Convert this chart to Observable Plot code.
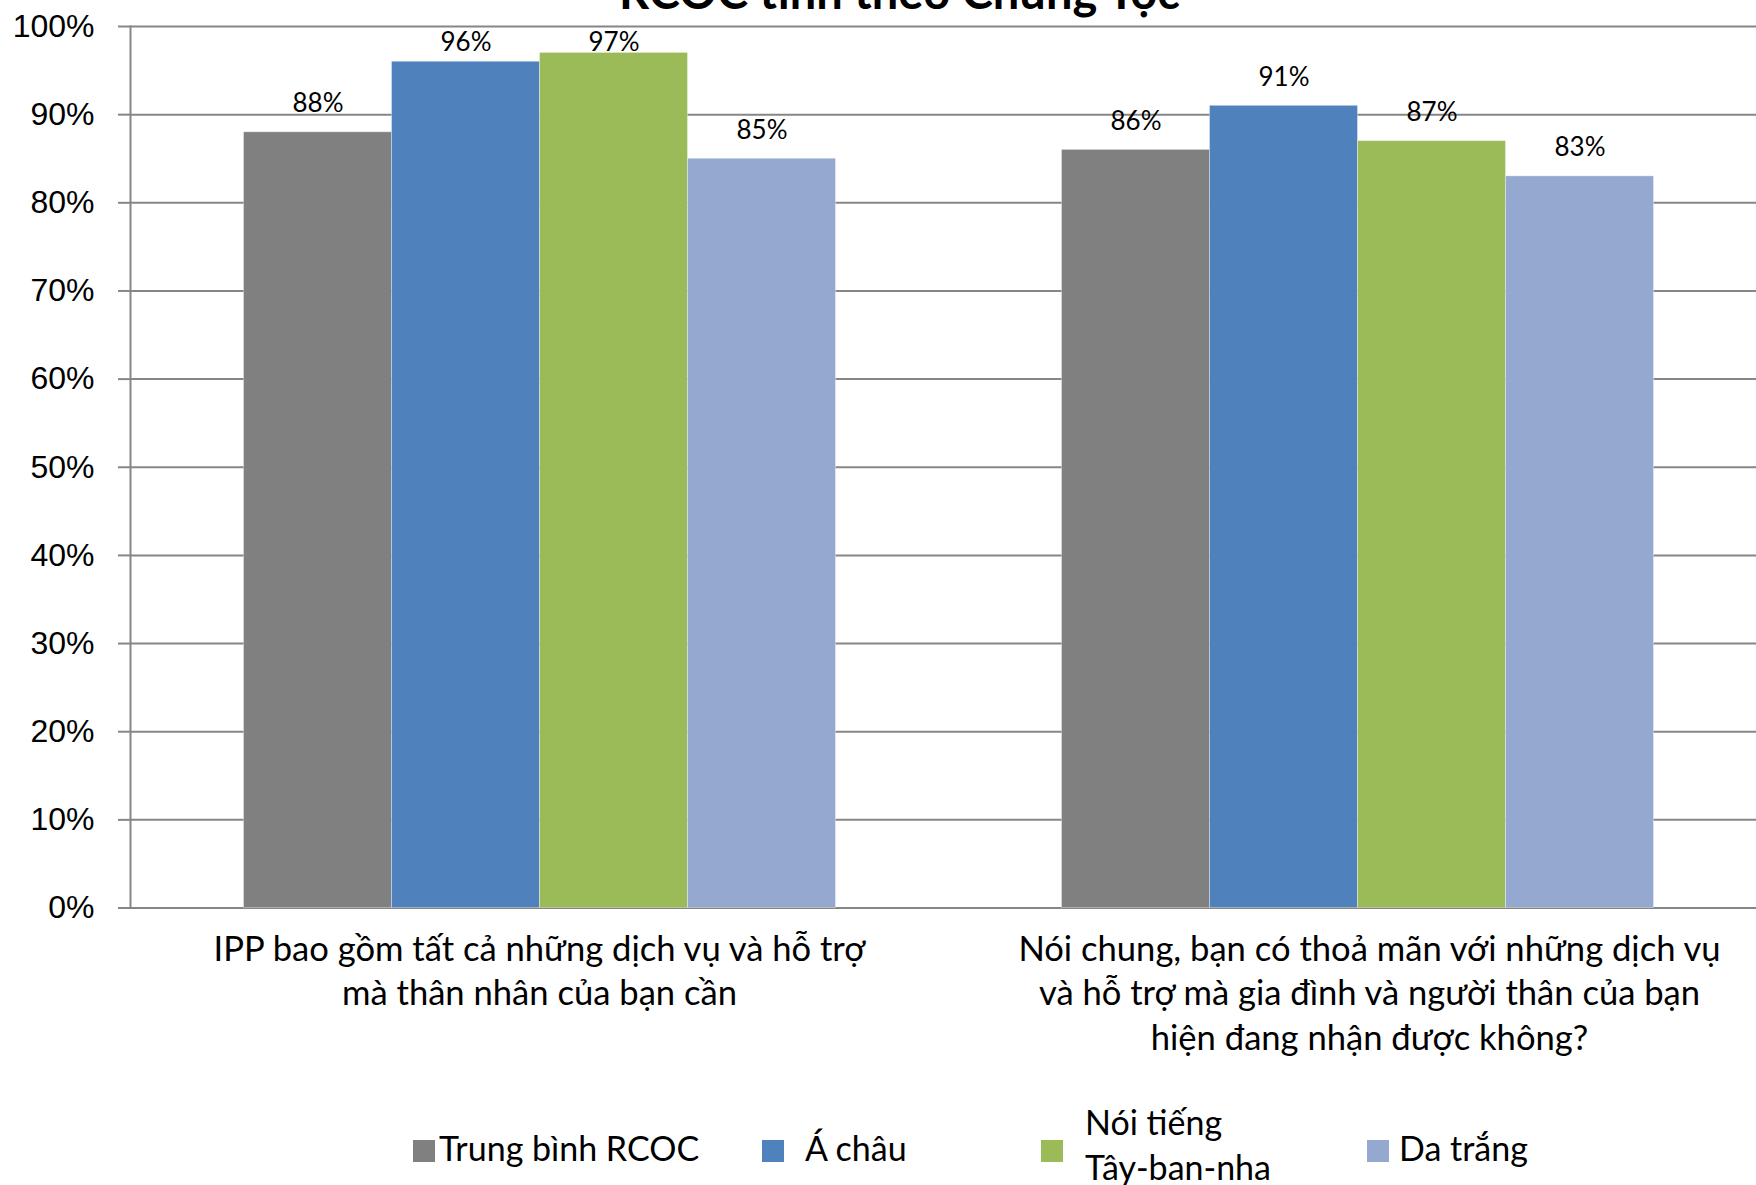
<!DOCTYPE html>
<html><head><meta charset="utf-8">
<script src="https://cdn.jsdelivr.net/npm/d3@7"></script>
<script src="https://cdn.jsdelivr.net/npm/@observablehq/plot@0.6"></script>
<style>
html,body{margin:0;padding:0;background:#fff;overflow:hidden;}
#page{position:relative;width:1756px;height:1185px;overflow:hidden;background:#fff;}
#title{position:absolute;left:0;width:1799px;top:-31.7px;text-align:center;font:bold 47px Lato,'Noto Sans',sans-serif;line-height:47px;color:#000;z-index:2;white-space:nowrap;}
#chart{position:absolute;left:0;top:0;}
.sw{position:absolute;width:22px;height:22px;top:1140px;}
.lt{position:absolute;font:34px Lato,'Noto Sans',sans-serif;line-height:45px;white-space:pre;color:#000;}
g[aria-label="y-axis tick"]{stroke-width:2px;}
</style></head>
<body><div id="page"><div id="title">RCOC tính theo Chủng Tộc</div><div id="chart"></div><div id="legend"></div></div>
<script>
// ---- data ----
const categories = [
  "IPP bao gồm tất cả những dịch vụ và hỗ trợ\nmà thân nhân của bạn cần",
  "Nói chung, bạn có thoả mãn với những dịch vụ\nvà hỗ trợ mà gia đình và người thân của bạn\nhiện đang nhận được không?"
];
const seriesNames = ["Trung bình RCOC", "Á châu", "Nói tiếng Tây-ban-nha", "Da trắng"];
const legendLabels = ["Trung bình RCOC", "Á châu", "Nói tiếng\nTây-ban-nha", "Da trắng"];
const seriesColors = ["#808080", "#4F81BD", "#9BBB59", "#95A9D0"];
const valuesTrungBinh = [0.88, 0.86];
const valuesAChau = [0.96, 0.91];
const valuesTayBanNha = [0.97, 0.87];
const valuesDaTrang = [0.85, 0.83];
const yTicks = [0, 0.1, 0.2, 0.3, 0.4, 0.5, 0.6, 0.7, 0.8, 0.9, 1.0];

const seriesValues = [valuesTrungBinh, valuesAChau, valuesTayBanNha, valuesDaTrang];
const rows = seriesNames.flatMap((s, i) => categories.map((c, j) => ({question: c, group: s, value: seriesValues[i][j]})));
const pct = d3.format(".0%");
// labels are kept inside the plot area (as the spreadsheet does)
const labelCeiling = 0.95;

const labelStyle = {fx: d => d, text: d => d, frameAnchor: "bottom", lineAnchor: "top", dy: 21, fontSize: 34.6, lineHeight: 1.29};

const plot = Plot.plot({
  width: 1756, height: 1100,
  marginLeft: 129.5, marginRight: -9.5, marginTop: 26, marginBottom: 192.5,
  style: {fontFamily: "Lato, 'Noto Sans', sans-serif", background: "transparent", overflow: "visible", color: "#000"},
  fx: {domain: categories, padding: 0, axis: null},
  x: {domain: seriesNames, paddingInner: 0, paddingOuter: 0.75, axis: null},
  y: {domain: [0, 1], axis: null},
  color: {domain: seriesNames, range: seriesColors},
  marks: [
    Plot.gridY({ticks: yTicks, stroke: "#868686", strokeOpacity: 1, strokeWidth: 2}),
    Plot.axisY({ticks: yTicks, tickSize: 12, tickFormat: () => "", color: "#868686", label: null}),
    Plot.axisY({ticks: yTicks, tickSize: 0, tickPadding: 36, tickFormat: pct, fontSize: 32,
      fontFamily: "'Liberation Sans', Arial, sans-serif", color: "#000", label: null}),
    Plot.frame({anchor: "left", facetAnchor: "left", stroke: "#868686", strokeWidth: 2}),
    Plot.barY(rows, {fx: "question", x: "group", y: "value", fill: "group", stroke: "#ffffff", strokeOpacity: 0.35, strokeWidth: 1}),
    Plot.text(rows, {fx: "question", x: "group", y: d => Math.min(d.value, labelCeiling), text: d => pct(d.value), lineAnchor: "bottom", dy: -20, fontSize: 26}),
    Plot.text([categories[0]], {...labelStyle}),
    Plot.text([categories[1]], {...labelStyle, dx: 12})
  ]
});
document.getElementById("chart").appendChild(plot);

// ---- legend (HTML, below the svg's plot area) ----
const legendSwatchX = [413, 762, 1041, 1367];
const legendTextX = [439, 805, 1085, 1399];
const legend = document.getElementById("legend");
seriesNames.forEach((s, i) => {
  const sw = document.createElement("div");
  sw.className = "sw";
  sw.style.left = legendSwatchX[i] + "px";
  sw.style.background = seriesColors[i];
  legend.appendChild(sw);
  const t = document.createElement("div");
  t.className = "lt";
  t.style.left = legendTextX[i] + "px";
  const lines = legendLabels[i].split("\n").length;
  t.style.top = (lines === 1 ? 1125.3 : 1099.3) + "px";
  t.textContent = legendLabels[i];
  legend.appendChild(t);
});
</script>
</body></html>
